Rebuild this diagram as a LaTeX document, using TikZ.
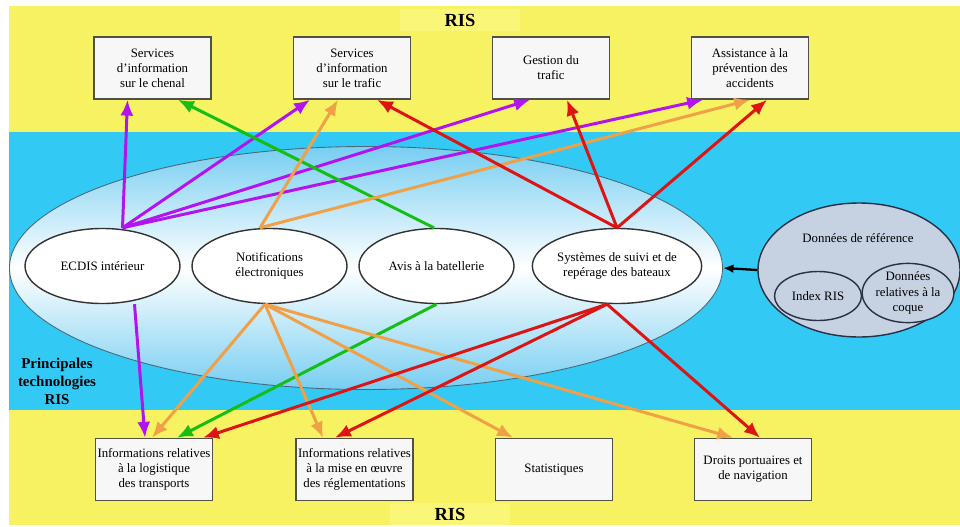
\documentclass[tikz,border=0pt]{standalone}
\usepackage{fontspec}
\setmainfont{Liberation Serif}
\usetikzlibrary{arrows.meta,shapes.geometric,positioning}
\definecolor{risyellow}{RGB}{246,242,98}
\definecolor{rislight}{RGB}{249,246,120}
\definecolor{risblue}{RGB}{50,202,245}
\definecolor{coreblue}{RGB}{120,206,242}
\definecolor{refgray}{RGB}{198,210,226}
\definecolor{refline}{RGB}{40,48,70}
\definecolor{boxline}{RGB}{80,80,70}
\definecolor{cpurple}{RGB}{178,20,240}
\definecolor{cgreen}{RGB}{20,190,20}
\definecolor{corange}{RGB}{240,160,70}
\definecolor{cred}{RGB}{220,20,20}
\tikzset{svc/.style={draw=boxline, line width=0.9pt, fill=white!97!black, minimum width=23.4mm, minimum height=12.4mm, align=center, inner sep=1pt, font=\fontsize{7.3}{8.6}\selectfont},
  tech/.style={ellipse, draw=black!80, line width=0.8pt, fill=white, minimum width=31mm, minimum height=15mm, align=center, inner sep=0pt, font=\fontsize{7.3}{8.6}\selectfont},
  refell/.style={ellipse, draw=refline, line width=0.8pt, fill=refgray, inner sep=0pt, align=center, font=\fontsize{7.3}{8.6}\selectfont},
  lnk/.style={line width=1.7pt, -{Latex[length=9pt,width=7.5pt]}},
  rislbl/.style={font=\bfseries\fontsize{10.5}{12}\selectfont, fill=rislight, inner sep=3pt}}

\begin{document}
\begin{tikzpicture}[x=0.2mm, y=-0.2mm]
    \useasboundingbox (0,0) rectangle (960,526);
    \fill[white] (0,0) rectangle (960,526);
    \fill[risyellow] (9,6) rectangle (960,525);
    \fill[risblue] (9,132) rectangle (960,410);

    \node[rislbl, minimum width=24mm] (ristop) at (460,20) {RIS};
    \node[rislbl, minimum width=24mm] (risbot) at (450,514) {RIS};

    % services (haut)
    \node[svc] (svc1) at (152.5,68) {Services\\d’information\\sur le chenal};
    \node[svc] (svc2) at (352,68) {Services\\d’information\\sur le trafic};
    \node[svc] (svc3) at (551,68) {Gestion du\\trafic};
    \node[svc] (svc4) at (750,68) {Assistance à la\\prévention des\\accidents};

    % usages (bas)
    \node[svc] (use1) at (154,469.5) {Informations relatives\\à la logistique\\des transports};
    \node[svc] (use2) at (354.5,469.5) {Informations relatives\\à la mise en œuvre\\des réglementations};
    \node[svc] (use3) at (554,469.5) {Statistiques};
    \node[svc] (use4) at (753,469.5) {Droits portuaires et\\de navigation};

    % technologies
    \node[ellipse, draw=black!60!cyan, line width=0.5pt, top color=coreblue, bottom color=coreblue, middle color=white, minimum width=142.6mm, minimum height=48.6mm] (core) at (366,268) {};
    \node[tech] (ecdis) at (102.5,266) {ECDIS intérieur};
    \node[tech] (notif) at (269.5,266) {Notifications\\électroniques};
    \node[tech] (avis) at (436.5,266) {Avis à la batellerie};
    \node[tech] (sys) at (617,266) {Systèmes de suivi et de\\repérage des bateaux};
    \node[font=\bfseries\fontsize{8.5}{10.2}\selectfont, align=center] (princ) at (57,381) {Principales\\technologies\\RIS};

    % donnees de reference
    \node[refell, minimum width=40.4mm, minimum height=26.8mm] (refdata) at (859,270) {};
    \node[font=\fontsize{7.3}{8.6}\selectfont] (reftxt) at (858,238) {Données de référence};
    \node[refell, minimum width=17.4mm, minimum height=9.8mm] (idx) at (818,296) {Index RIS};
    \node[refell, minimum width=17.4mm, minimum height=9.4mm] (coque) at (908,293) {Données\\relatives à la\\coque};
    \draw[line width=1.3pt, -{Latex[length=6pt,width=5pt]}] (refdata.west) -- (core.east);

    % ECDIS
    \foreach \t/\dx in {svc1/-25, svc2/-42, svc3/-21, svc4/-47}
      \draw[lnk, cpurple] ([xshift=4mm]ecdis.north) -- ([xshift=\dx*0.2mm]\t.south);
    \draw[lnk, cpurple] ([xshift=6.4mm]ecdis.south) -- ([xshift=-1.8mm]use1.north);

    % avis
    \draw[lnk, cgreen] ([xshift=-0.5mm]avis.north) -- ([xshift=5.1mm]svc1.south);
    \draw[lnk, cgreen] (avis.south) -- ([xshift=4.6mm]use1.north);

    % notifications
    \foreach \t/\dx in {svc2/-14, svc4/0}
      \draw[lnk, corange] ([xshift=-1.9mm]notif.north) -- ([xshift=\dx*0.2mm]\t.south);
    \foreach \t/\dx in {use1/-2, use2/-31.5, use3/-41, use4/-20}
      \draw[lnk, corange] ([xshift=-0.9mm]notif.south) -- ([xshift=\dx*0.2mm]\t.north);

    % suivi et reperage
    \foreach \t/\dx in {svc2/25, svc3/16, svc4/17}
      \draw[lnk, cred] (sys.north) -- ([xshift=\dx*0.2mm]\t.south);
    \foreach \t/\dx in {use1/49, use2/-19.5, use4/7}
      \draw[lnk, cred] ([xshift=-2mm]sys.south) -- ([xshift=\dx*0.2mm]\t.north);
\end{tikzpicture}
\end{document}
